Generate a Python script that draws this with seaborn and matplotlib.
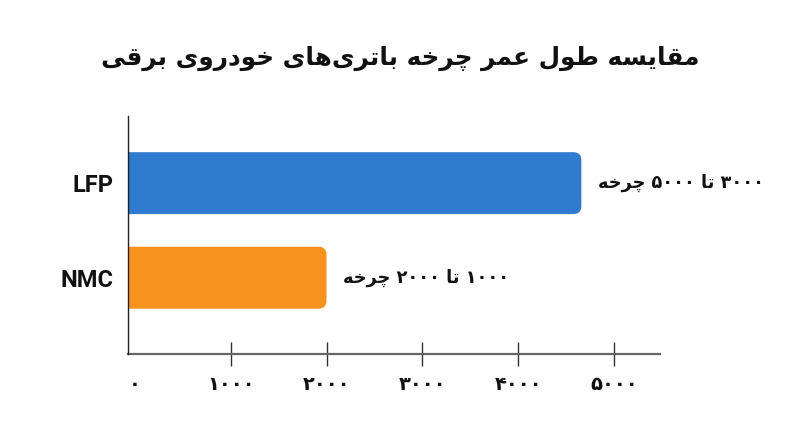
import numpy as np
import pandas as pd
import seaborn as sns
import matplotlib
matplotlib.use("Agg")
import matplotlib.pyplot as plt
from matplotlib.patches import FancyBboxPatch
from matplotlib.ticker import FuncFormatter, FixedLocator

# ---------------- data ----------------
chemistries = ["LFP", "NMC"]
cycle_life = [4660, 2000]
range_labels = ["۳۰۰۰ تا ۵۰۰۰ چرخه", "۱۰۰۰ تا ۲۰۰۰ چرخه"]
bar_colors = ["#2F7BD0", "#F7921E"]
x_ticks = [0, 1000, 2000, 3000, 4000, 5000]
title_text = "مقایسه طول عمر چرخه باتری‌های خودروی برقی"

# ---------------- minimal Persian shaping + bidi ----------------
FORMS = {
    "ا": (0xFE8D, 0xFE8E), "آ": (0xFE81, 0xFE82),
    "ب": (0xFE8F, 0xFE90, 0xFE91, 0xFE92), "پ": (0xFB56, 0xFB57, 0xFB58, 0xFB59),
    "ت": (0xFE95, 0xFE96, 0xFE97, 0xFE98), "ث": (0xFE99, 0xFE9A, 0xFE9B, 0xFE9C),
    "ج": (0xFE9D, 0xFE9E, 0xFE9F, 0xFEA0), "چ": (0xFB7A, 0xFB7B, 0xFB7C, 0xFB7D),
    "ح": (0xFEA1, 0xFEA2, 0xFEA3, 0xFEA4), "خ": (0xFEA5, 0xFEA6, 0xFEA7, 0xFEA8),
    "د": (0xFEA9, 0xFEAA), "ذ": (0xFEAB, 0xFEAC), "ر": (0xFEAD, 0xFEAE),
    "ز": (0xFEAF, 0xFEB0), "ژ": (0xFB8A, 0xFB8B),
    "س": (0xFEB1, 0xFEB2, 0xFEB3, 0xFEB4), "ش": (0xFEB5, 0xFEB6, 0xFEB7, 0xFEB8),
    "ص": (0xFEB9, 0xFEBA, 0xFEBB, 0xFEBC), "ض": (0xFEBD, 0xFEBE, 0xFEBF, 0xFEC0),
    "ط": (0xFEC1, 0xFEC2, 0xFEC3, 0xFEC4), "ظ": (0xFEC5, 0xFEC6, 0xFEC7, 0xFEC8),
    "ع": (0xFEC9, 0xFECA, 0xFECB, 0xFECC), "غ": (0xFECD, 0xFECE, 0xFECF, 0xFED0),
    "ف": (0xFED1, 0xFED2, 0xFED3, 0xFED4), "ق": (0xFED5, 0xFED6, 0xFED7, 0xFED8),
    "ک": (0xFB8E, 0xFB8F, 0xFB90, 0xFB91), "گ": (0xFB92, 0xFB93, 0xFB94, 0xFB95),
    "ل": (0xFEDD, 0xFEDE, 0xFEDF, 0xFEE0), "م": (0xFEE1, 0xFEE2, 0xFEE3, 0xFEE4),
    "ن": (0xFEE5, 0xFEE6, 0xFEE7, 0xFEE8), "ه": (0xFEE9, 0xFEEA, 0xFEEB, 0xFEEC),
    "و": (0xFEED, 0xFEEE), "ی": (0xFBFC, 0xFBFD, 0xFBFE, 0xFBFF),
}
DIGITS = set("0123456789۰۱۲۳۴۵۶۷۸۹")


def shape(text):
    out = []
    n = len(text)
    for i, c in enumerate(text):
        if c == "\u200c":
            continue
        if c not in FORMS:
            out.append(c)
            continue
        prev = text[i - 1] if i > 0 else None
        nxt = text[i + 1] if i + 1 < n else None
        f = FORMS[c]
        jp = prev in FORMS and len(FORMS[prev]) == 4
        jn = len(f) == 4 and nxt in FORMS
        if jp and jn:
            out.append(chr(f[3]))
        elif jp:
            out.append(chr(f[1]))
        elif jn:
            out.append(chr(f[2]))
        else:
            out.append(chr(f[0]))
    groups = []
    for ch in out:
        if ch in DIGITS and groups and groups[-1][0] in DIGITS:
            groups[-1] += ch
        else:
            groups.append(ch)
    return "".join(reversed(groups))


def fa_digits(v, pos=None):
    s = str(int(round(v)))
    return s.translate(str.maketrans("0123456789", "۰۱۲۳۴۵۶۷۸۹"))


# ---------------- figure ----------------
sns.set_theme(style="white")
plt.rcParams["font.family"] = ["DejaVu Sans"]

W, H = 800, 447
fig = plt.figure(figsize=(W / 100, H / 100), dpi=100)
ax = fig.add_axes([128.3 / W, 1 - 354.3 / H, (660 - 128.3) / W, (354.3 - 116) / H])

df = pd.DataFrame({"chem": chemistries, "cycles": cycle_life})
sns.barplot(data=df, y="chem", x="cycles", hue="chem", palette=bar_colors,
            legend=False, width=0.655, saturation=1, ax=ax)

ax.set_xlim(-69, 5481)
ax.set_ylim(1.81, -0.71)

# rounded right ends on bars
p0 = ax.transData.transform((0, 0))
p1 = ax.transData.transform((1, 1))
sx = abs(p1[0] - p0[0])
sy = abs(p1[1] - p0[1])
radius_px = 8
r_x = radius_px / sx
aspect = sx / sy
xmin = ax.get_xlim()[0]
for p in list(ax.patches):
    x, y, w, h = p.get_x(), p.get_y(), p.get_width(), p.get_height()
    left = xmin - 400
    nb = FancyBboxPatch((left, y), x + w - left, h,
                        boxstyle=f"round,pad=0,rounding_size={r_x}",
                        mutation_aspect=aspect, fc=p.get_facecolor(),
                        ec="none", zorder=2)
    p.remove()
    ax.add_patch(nb)

sns.despine(ax=ax, top=True, right=True)
ax.spines["left"].set_color("#222222")
ax.spines["left"].set_linewidth(1.0)
ax.spines["bottom"].set_color("#666666")
ax.spines["bottom"].set_linewidth(1.6)
ax.spines["left"].set_zorder(5)

ax.xaxis.set_major_locator(FixedLocator(x_ticks))
ax.xaxis.set_major_formatter(FuncFormatter(fa_digits))
ax.tick_params(axis="x", direction="inout", length=17.3, width=1.0,
               color="#333333", pad=6.0, labelsize=14, bottom=True)
for lbl in ax.get_xticklabels():
    lbl.set_fontweight("bold")
    lbl.set_color("#111111")
ax.xaxis.get_major_ticks()[0].tick1line.set_visible(False)

ax.tick_params(axis="y", length=0, pad=11, labelsize=17)
for lbl in ax.get_yticklabels():
    lbl.set_fontfamily("Roboto")
    lbl.set_fontweight("bold")
    lbl.set_color("#111111")

ax.set_xlabel("")
ax.set_ylabel("")

for i, (v, lbl) in enumerate(zip(cycle_life, range_labels)):
    ax.annotate(shape(lbl), xy=(v, i), xytext=(12, 0), textcoords="offset points",
                ha="left", va="center", fontsize=12.8, fontweight="bold",
                color="#111111", annotation_clip=False)

fig.text(0.5, 1 - 58 / H, shape(title_text), ha="center", va="center",
         fontsize=17.8, fontweight="bold", color="#111111")

fig.savefig("out.png", dpi=100, facecolor="white")
